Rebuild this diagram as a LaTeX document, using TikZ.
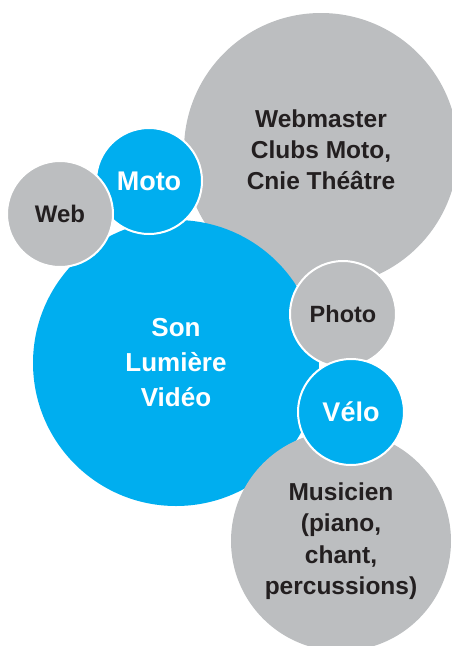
\documentclass[tikz,border=0pt]{standalone}
\usepackage{fontspec}
\setmainfont{Liberation Sans}
\definecolor{bleubulle}{HTML}{00AEEF}
\definecolor{grisbulle}{HTML}{BCBEC0}
\definecolor{noirtexte}{HTML}{231F20}
\begin{document}
\begin{tikzpicture}[x=1pt, y=-1pt, line join=round, font=\bfseries\fontsize{24.5pt}{31pt}\selectfont]
			\tikzset{bulle/.style={circle, inner sep=0pt, align=center},
				grise/.style={bulle, fill=grisbulle, text=noirtexte},
				bleue/.style={bulle, fill=bleubulle, text=white},
				liseret/.style={draw=white, line width=2pt}}
			\useasboundingbox (0,0) rectangle (452,646);
			\clip (0,0) rectangle (452,646);
			\node[grise, minimum size=274pt] (webmaster) at (321,150) {Webmaster\\Clubs Moto,\\Cnie Théâtre};
			\node[bleue, minimum size=286pt, font=\bfseries\fontsize{26pt}{35pt}\selectfont] (son) at (176,363) {Son\\Lumière\\Vidéo};
			\node[grise, minimum size=220pt, font=\bfseries\fontsize{24.5pt}{31.5pt}\selectfont] (musicien) at (341,541) {Musicien\\(piano,\\chant,\\percussions)};
			\node[grise, liseret, minimum size=106pt, font=\bfseries\fontsize{23.5pt}{28pt}\selectfont] (photo) at (343,314) {Photo};
			\node[bleue, liseret, minimum size=106pt, font=\bfseries\fontsize{27pt}{32pt}\selectfont] (velo) at (351,412) {Vélo};
			\node[bleue, liseret, minimum size=106pt, font=\bfseries\fontsize{27pt}{32pt}\selectfont] (moto) at (149,181) {Moto};
			\node[grise, liseret, minimum size=106pt, font=\bfseries\fontsize{24pt}{28pt}\selectfont] (web) at (60,214) {Web};
		\end{tikzpicture}
\end{document}
